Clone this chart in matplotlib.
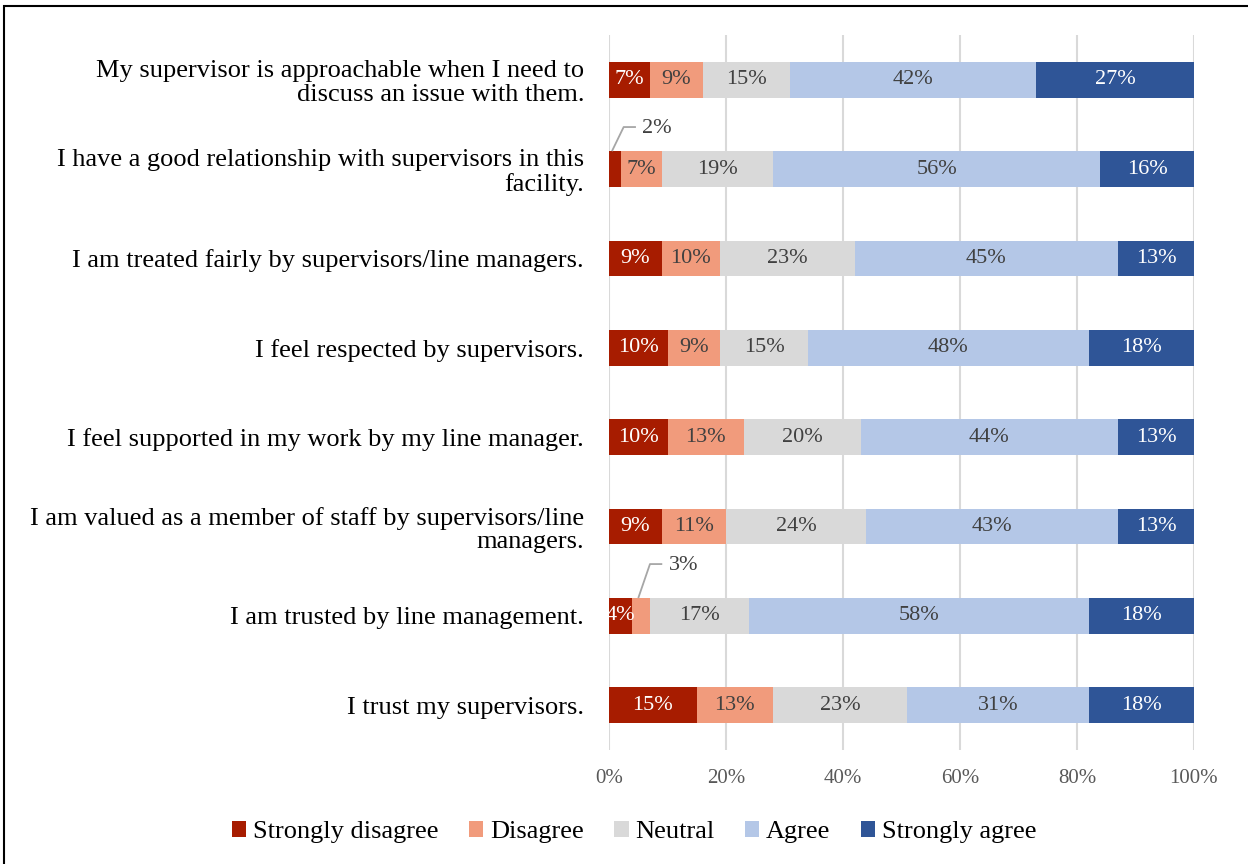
import matplotlib.pyplot as plt
from matplotlib.patches import Rectangle
import numpy as np

statements = [
    "My supervisor is approachable when I need to\ndiscuss an issue with them.",
    "I have a good relationship with supervisors in this\nfacility.",
    "I am treated fairly by supervisors/line managers.",
    "I feel respected by supervisors.",
    "I feel supported in my work by my line manager.",
    "I am valued as a member of staff by supervisors/line\nmanagers.",
    "I am trusted by line management.",
    "I trust my supervisors.",
]
responses = ["Strongly disagree", "Disagree", "Neutral", "Agree", "Strongly agree"]

strongly_disagree = [7, 2, 9, 10, 10, 9, 4, 15]
disagree = [9, 7, 10, 9, 13, 11, 3, 13]
neutral = [15, 19, 23, 15, 20, 24, 17, 23]
agree = [42, 56, 45, 48, 44, 43, 58, 31]
strongly_agree = [27, 16, 13, 18, 13, 13, 18, 18]

colors = ["#A71C00", "#F19B7C", "#D9D9D9", "#B4C7E7", "#2F5597"]
text_colors = ["white", "#404040", "#404040", "#404040", "white"]

# (series, row) -> how far the leader line rises above the bar
callouts = {(0, 1): 0.27, (1, 6): 0.38}

plt.rcParams["font.family"] = ["Liberation Serif", "DejaVu Serif"]

fig = plt.figure(figsize=(12.48, 8.64), dpi=100)
ax = fig.add_axes([0.488, 0.132, 0.4687, 0.8275])

series = [strongly_disagree, disagree, neutral, agree, strongly_agree]
y = np.arange(len(statements))
left = np.zeros(len(statements))
bar_h = 0.4

for i, vals in enumerate(series):
    vals = np.array(vals, dtype=float)
    ax.barh(y, vals, left=left, height=bar_h, color=colors[i],
            label=responses[i], zorder=3)
    for j, v in enumerate(vals):
        cx = left[j] + v / 2
        if (i, j) in callouts:
            top = j - bar_h / 2
            ey = top - callouts[(i, j)]
            xs = [cx - 0.5, cx + 1.5, cx + 3.6]
            ax.plot(xs, [top, ey, ey], color="#A6A6A6", lw=1.3, zorder=4,
                    solid_capstyle="butt", clip_on=False)
            ax.text(xs[-1] + 1.1, ey + 0.02, f"{v:.0f}%", ha="left", va="center",
                    fontsize=16, color="#404040", zorder=4)
        else:
            ax.text(cx, j, f"{v:.0f}%", ha="center", va="center",
                    fontsize=16, color=text_colors[i], zorder=4)
    left += vals

ax.set_xlim(0, 100)
ax.set_ylim(-0.5, len(statements) - 0.5)
ax.invert_yaxis()
ax.set_xticks(np.arange(0, 101, 20))
ax.set_xticklabels([f"{t}%" for t in range(0, 101, 20)])
ax.tick_params(axis="x", length=0, labelsize=15, labelcolor="#595959", pad=14)
ax.tick_params(axis="y", length=0, labelsize=19, pad=18)
ax.set_yticks(y)
ax.set_yticklabels(statements, ha="right", linespacing=1.1)
ax.grid(axis="x", color="#D9D9D9", lw=1.5, zorder=0)
for s in ax.spines.values():
    s.set_visible(False)

fig.legend(loc="center", bbox_to_anchor=(0.508, 0.037), ncol=5, frameon=False,
           fontsize=19, handlelength=0.55, handleheight=0.55,
           handletextpad=0.25, columnspacing=1.15)

fig.patches.append(Rectangle((4 / 1248, -0.1), 1.5, 1.093, transform=fig.transFigure,
                             fill=False, edgecolor="black", lw=1.5))

fig.savefig("out.png", dpi=100)
